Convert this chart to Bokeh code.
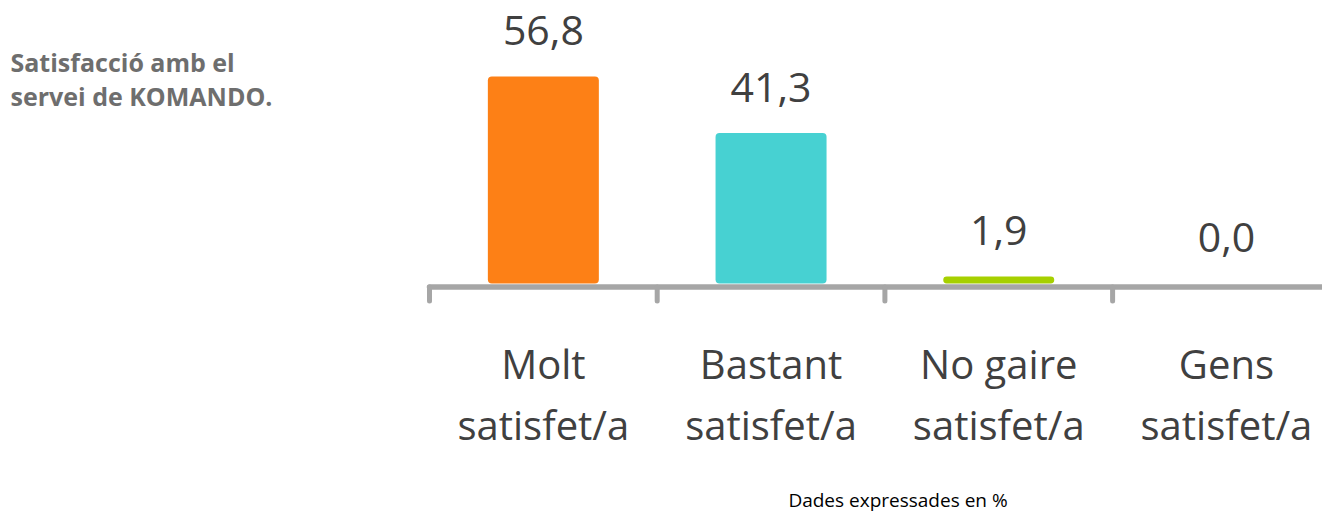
from bokeh.plotting import figure
from bokeh.models import Range1d, ColumnDataSource
from bokeh.core.properties import value
from bokeh.embed import file_html
from bokeh.resources import INLINE

# ---- data ----
categories = ["Molt\nsatisfet/a", "Bastant\nsatisfet/a", "No gaire\nsatisfet/a", "Gens\nsatisfet/a"]
values = [56.8, 41.3, 1.9, 0.0]
colors = ["#fd8016", "#47d1d2", "#a6d000", "#a6d000"]
title_lines = "Satisfacció amb el\nservei de KOMANDO."
footer = "Dades expressades en %"

# ---- geometry (pixel layout of the picture) ----
W, H = 1322, 515
X_PX = 227.7          # pixels per category slot
Y_PX = 3.644          # pixels per percentage point
LEFT_PX = 429         # x of first category boundary
BASE_PX = 283         # y of value 0

xs = -LEFT_PX / X_PX
xe = xs + W / X_PX
ye = BASE_PX / Y_PX
ys = ye - H / Y_PX


def dx(px):
    return xs + px / X_PX


def dy(py):
    return ye - py / Y_PX


n = len(categories)
centers = [i + 0.5 for i in range(n)]
labels = [f"{v:.1f}".replace(".", ",") for v in values]
gap = 46 / Y_PX

src = ColumnDataSource(dict(x=centers, top=values, color=colors, cat=categories,
                            lab=labels, laby=[v + gap for v in values]))

p = figure(width=W, height=H, x_range=Range1d(xs, xe), y_range=Range1d(ys, ye),
           output_backend="svg", toolbar_location=None,
           x_axis_type=None, y_axis_type=None, min_border=0)
p.grid.visible = False
p.outline_line_color = None
p.background_fill_color = "white"
p.border_fill_color = "white"

p.vbar(x="x", top="top", bottom=0, width=0.4875, fill_color="color",
       line_color=None, source=src, border_radius=4)

# axis line and ticks
axis_y = dy(286.5)
p.segment(x0=[0], x1=[n + 1], y0=[axis_y], y1=[axis_y], line_width=5.5,
          line_color="#a6a6a6", line_cap="round")
bounds = list(range(n + 1))
p.segment(x0=bounds, x1=bounds, y0=[axis_y] * len(bounds), y1=[dy(300.5)] * len(bounds),
          line_width=5, line_color="#a6a6a6", line_cap="round")

# value labels
p.text(x="x", y="laby", text="lab", source=src, text_align="center",
       text_baseline="alphabetic", text_font=value("Open Sans"),
       text_font_size="41px", text_color="#404040")

# category labels
p.text(x="x", y=dy(335), text="cat", source=src, text_align="center",
       text_baseline="top", text_font=value("Open Sans"), text_font_size="40px",
       text_color="#404040", text_line_height=1.12)

# title
p.text(x=[dx(10)], y=[dy(44)], text=[title_lines], text_align="left",
       text_baseline="top", text_font=value("Open Sans"), text_font_style="bold",
       text_font_size="25px", text_color="#6e6e6e", text_line_height=1.0)

# footer
p.text(x=[dx(897.5)], y=[dy(499)], text=[footer], text_align="center",
       text_baseline="alphabetic", text_font=value("Open Sans"),
       text_font_size="19px", text_color="#000000")

open("out.html", "w").write(file_html(p, INLINE))
